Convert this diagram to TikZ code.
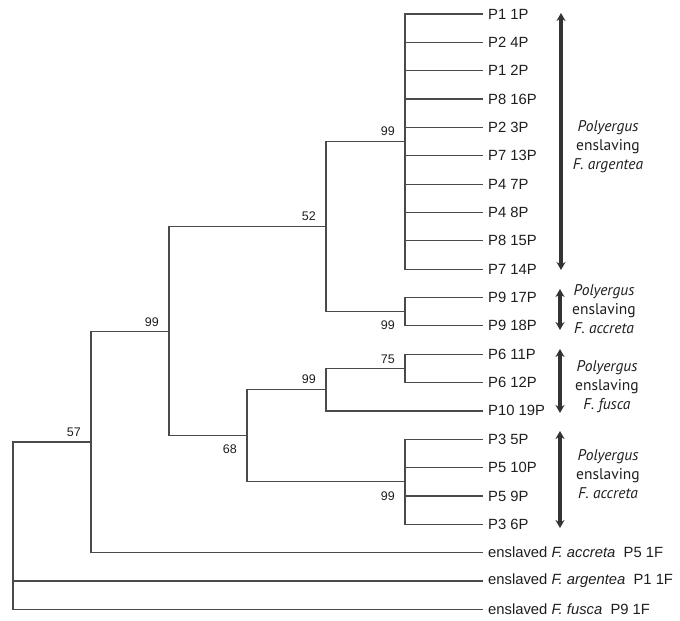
\documentclass[tikz,border=0pt]{standalone}
\usepackage{fontspec}
\setmainfont{Liberation Sans}
\newfontfamily\grpfont{PT Sans}
\usetikzlibrary{arrows.meta}
\definecolor{tree}{HTML}{4A4A4A}
\definecolor{txt}{HTML}{1E1E1E}
\definecolor{arr}{HTML}{333333}
\begin{document}
\begin{tikzpicture}[x=1pt,y=-1pt,
 branch/.style={draw=tree, line width=1.2pt},
 leaf/.style={anchor=west, inner xsep=5pt, inner ysep=0pt, text=txt, font=\fontsize{14.8}{17}\selectfont},
 support/.style={anchor=east, inner sep=0pt, text=txt, font=\fontsize{12.5}{14}\selectfont},
 rangearrow/.style={draw=arr, line width=3.2pt, {Stealth[length=8pt,width=9pt]}-{Stealth[length=8pt,width=9pt]}},
 grouptxt/.style={align=center, text=txt, font=\grpfont\fontsize{15.5}{19}\selectfont}]
\useasboundingbox (0,0) rectangle (680,621);

% leaves
\foreach \i/\t in {0/P1 1P,1/P2 4P,2/P1 2P,3/P8 16P,4/P2 3P,5/P7 13P,6/P4 7P,7/P4 8P,8/P8 15P,9/P7 14P,
  10/P9 17P,11/P9 18P,12/P6 11P,13/P6 12P,14/P10 19P,15/P3 5P,16/P5 10P,17/P5 9P,18/P3 6P}
  \node[leaf] (l\i) at (483,{14+\i*28.35}) {\t};
\node[leaf] (l19) at (483,{14+19*28.35}) {enslaved \textit{F. accreta}\ \ P5 1F};
\node[leaf] (l20) at (483,{14+20*28.35}) {enslaved \textit{F. argentea}\ \ P1 1F};
\node[leaf] (l21) at (483,{14+21*28.35}) {enslaved \textit{F. fusca}\ \ P9 1F};

% internal nodes
\coordinate (nA) at (405,141.6);
\coordinate (nB) at (405,311.7);
\coordinate (nC) at (326,226.6);
\coordinate (nD) at (405,368.4);
\coordinate (nE) at (326,389.6);
\coordinate (nF) at (405,481.8);
\coordinate (nG) at (247,435.7);
\coordinate (nH) at (169,331.2);
\coordinate (nI) at (91,441.9);
\coordinate (nR) at (13,525.6);

% branches
\foreach \i in {0,...,9} \draw[branch] (nA) |- (l\i.west);
\foreach \i in {10,11} \draw[branch] (nB) |- (l\i.west);
\foreach \i in {12,13} \draw[branch] (nD) |- (l\i.west);
\foreach \i in {15,...,18} \draw[branch] (nF) |- (l\i.west);
\draw[branch] (nC) |- (nA);
\draw[branch] (nC) |- (nB);
\draw[branch] (nE) |- (nD);
\draw[branch] (nE) |- (l14.west);
\draw[branch] (nG) |- (nE);
\draw[branch] (nG) |- (nF);
\draw[branch] (nH) |- (nC);
\draw[branch] (nH) |- (nG);
\draw[branch] (nI) |- (nH);
\draw[branch] (nI) |- (l19.west);
\draw[branch] (nR) |- (nI);
\draw[branch] (nR) |- (l20.west);
\draw[branch] (nR) |- (l21.west);

% support values
\node[support] (sA) at (395,131.6) {99};
\node[support] (sB) at (395,324.7) {99};
\node[support] (sC) at (316,216.6) {52};
\node[support] (sD) at (395,358.9) {75};
\node[support] (sE) at (316,379.6) {99};
\node[support] (sF) at (395,495.8) {99};
\node[support] (sG) at (237,448.7) {68};
\node[support] (sH) at (159,321.7) {99};
\node[support] (sI) at (81,432.7) {57};

% range arrows
\coordinate (a1t) at (561,13);  \coordinate (a1b) at (561,270);
\coordinate (a2t) at (560,289); \coordinate (a2b) at (560,330);
\coordinate (a3t) at (560,349); \coordinate (a3b) at (560,413);
\coordinate (a4t) at (560,431); \coordinate (a4b) at (560,528);
\draw[rangearrow] (a1t) -- (a1b);
\draw[rangearrow] (a2t) -- (a2b);
\draw[rangearrow] (a3t) -- (a3b);
\draw[rangearrow] (a4t) -- (a4b);

% group labels
\node[grouptxt] (g1) at (608,147) {\textit{Polyergus}\\enslaving\\\textit{F. argentea}};
\node[grouptxt] (g2) at (604,309.5) {\textit{Polyergus}\\enslaving\\\textit{F. accreta}};
\node[grouptxt] (g3) at (607,386.5) {\textit{Polyergus}\\enslaving\\\textit{F. fusca}};
\node[grouptxt] (g4) at (608,474) {\textit{Polyergus}\\enslaving\\\textit{F. accreta}};
\end{tikzpicture}
\end{document}
